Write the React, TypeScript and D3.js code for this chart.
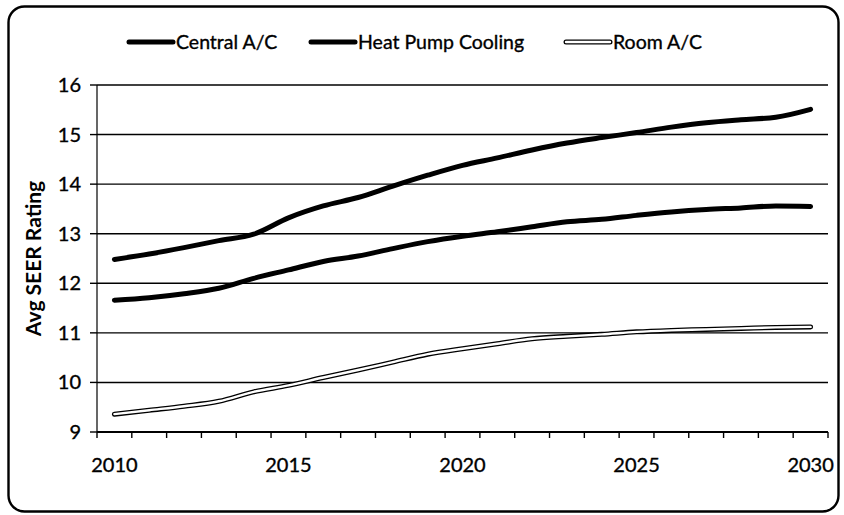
import React from "react";
import * as d3 from "d3";

const years: number[] = d3.range(2010, 2031);
const centralAC: number[] = [
  12.48, 12.59, 12.72, 12.86, 12.99, 13.32, 13.56, 13.73, 13.96, 14.18, 14.38,
  14.53, 14.69, 14.83, 14.94, 15.04, 15.15, 15.24, 15.30, 15.35, 15.51,
];
const heatPump: number[] = [
  11.66, 11.71, 11.79, 11.90, 12.10, 12.27, 12.44, 12.55, 12.70, 12.84, 12.95,
  13.04, 13.14, 13.24, 13.29, 13.37, 13.44, 13.49, 13.52, 13.56, 13.55,
];
const roomAC: number[] = [
  9.36, 9.44, 9.52, 9.62, 9.81, 9.94, 10.10, 10.25, 10.41, 10.57, 10.68,
  10.78, 10.88, 10.93, 10.97, 11.02, 11.05, 11.07, 11.09, 11.11, 11.12,
];
const yTicks: number[] = [9, 10, 11, 12, 13, 14, 15, 16];
const xLabels: number[] = [2010, 2015, 2020, 2025, 2030];
const seriesNames: string[] = ["Central A/C", "Heat Pump Cooling", "Room A/C"];

const W = 844;
const H = 515;
const FONT = "Lato, 'Open Sans', sans-serif";

export default function App() {
  const left = 97;
  const right = 828;
  const top = 85;
  const bottom = 432;

  const x = d3.scaleBand<number>().domain(years).range([left, right]);
  const y = d3.scaleLinear().domain([9, 16]).range([bottom, top]);
  const cx = (yr: number) => (x(yr) as number) + x.bandwidth() / 2;

  const line = d3
    .line<number>()
    .x((_, i) => cx(years[i]))
    .y((v) => y(v))
    .curve(d3.curveMonotoneX);

  const boundaries = years.map((yr) => x(yr) as number).concat([right]);

  const legendItems = [
    { name: seriesNames[0], x0: 129, hollow: false },
    { name: seriesNames[1], x0: 311, hollow: false },
    { name: seriesNames[2], x0: 566, hollow: true },
  ];
  const legendY = 42;
  const legendLen = 44;

  const textStroke = { stroke: "#000", strokeWidth: 0.35 };

  return (
    <div style={{ position: "absolute", left: 0, top: 0 }}>
      <svg width={W} height={H} style={{ display: "block", background: "#fff" }}>
        <rect
          x={8.5}
          y={6.5}
          width={830}
          height={505}
          rx={16}
          ry={16}
          fill="#fff"
          stroke="#000"
          strokeWidth={2.4}
        />

        {/* horizontal gridlines */}
        {yTicks.map((t) => (
          <line
            key={"g" + t}
            x1={left}
            x2={right}
            y1={y(t)}
            y2={y(t)}
            stroke="#000"
            strokeWidth={1.4}
          />
        ))}

        {/* y axis */}
        <line x1={left} x2={left} y1={top} y2={bottom} stroke="#000" strokeWidth={1.2} />
        {yTicks.map((t) => (
          <g key={"yt" + t}>
            <line x1={left - 7} x2={left} y1={y(t)} y2={y(t)} stroke="#000" strokeWidth={1.4} />
            <text
              x={left - 16}
              y={y(t)}
              dy="0.35em"
              textAnchor="end"
              fontFamily={FONT}
              fontSize={20}
              fill="#000"
              {...textStroke}
            >
              {t}
            </text>
          </g>
        ))}

        {/* x axis */}
        <line x1={left} x2={right} y1={bottom} y2={bottom} stroke="#000" strokeWidth={1.8} />
        {boundaries.map((b, i) => (
          <line key={"xt" + i} x1={b} x2={b} y1={bottom} y2={bottom + 6} stroke="#000" strokeWidth={1.4} />
        ))}
        {xLabels.map((yr) => (
          <text
            key={"xl" + yr}
            x={cx(yr)}
            y={472}
            textAnchor="middle"
            fontFamily={FONT}
            fontSize={20}
            fill="#000"
            {...textStroke}
          >
            {yr}
          </text>
        ))}

        {/* axis title */}
        <text
          transform={`translate(34, ${(top + bottom) / 2}) rotate(-90)`}
          textAnchor="middle"
          dy="0.35em"
          fontFamily={FONT}
          fontWeight="bold"
          fontSize={21}
          fill="#000"
        >
          Avg SEER Rating
        </text>

        {/* series */}
        <path d={line(centralAC) ?? ""} fill="none" stroke="#000" strokeWidth={5} strokeLinecap="round" strokeLinejoin="round" />
        <path d={line(heatPump) ?? ""} fill="none" stroke="#000" strokeWidth={5} strokeLinecap="round" strokeLinejoin="round" />
        <path d={line(roomAC) ?? ""} fill="none" stroke="#000" strokeWidth={5} strokeLinecap="round" strokeLinejoin="round" />
        <path d={line(roomAC) ?? ""} fill="none" stroke="#fff" strokeWidth={2.4} strokeLinecap="round" strokeLinejoin="round" />

        {/* legend */}
        {legendItems.map((it) => (
          <g key={it.name}>
            <line
              x1={it.x0}
              x2={it.x0 + legendLen}
              y1={legendY}
              y2={legendY}
              stroke="#000"
              strokeWidth={5}
              strokeLinecap="round"
            />
            {it.hollow && (
              <line
                x1={it.x0}
                x2={it.x0 + legendLen}
                y1={legendY}
                y2={legendY}
                stroke="#fff"
                strokeWidth={2.4}
                strokeLinecap="round"
              />
            )}
            <text
              x={it.x0 + legendLen + 3}
              y={legendY}
              dy="0.35em"
              fontFamily={FONT}
              fontSize={19.5}
              fill="#000"
              {...textStroke}
            >
              {it.name}
            </text>
          </g>
        ))}
      </svg>
    </div>
  );
}
